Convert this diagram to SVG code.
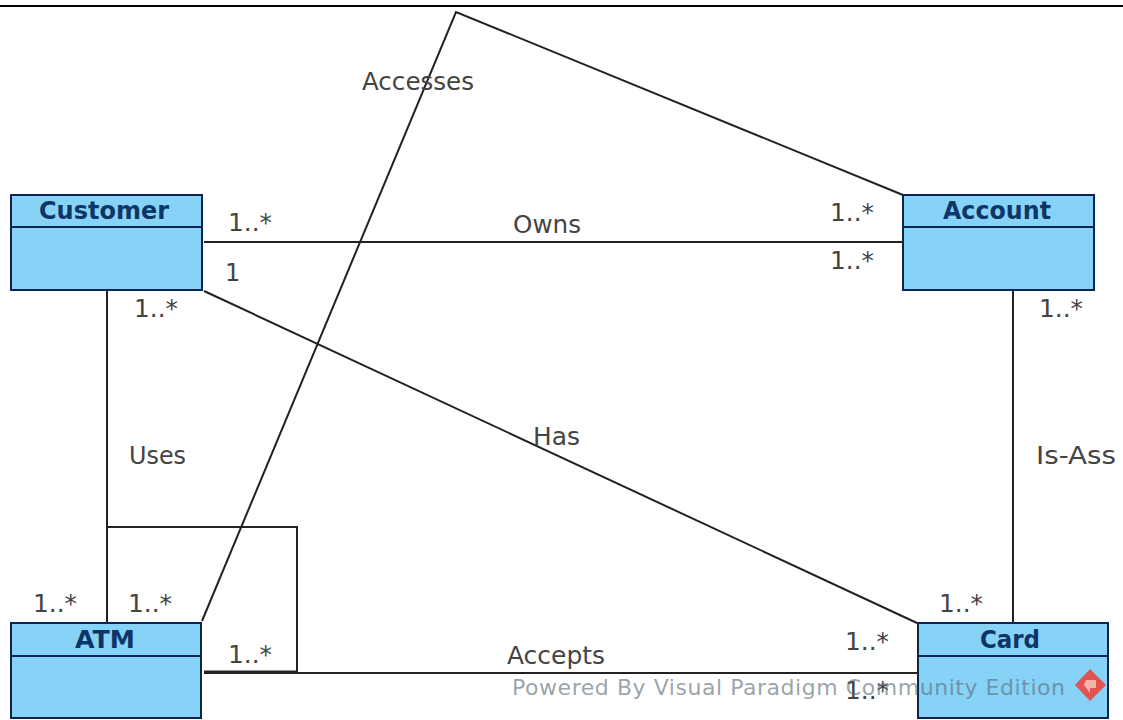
<svg xmlns="http://www.w3.org/2000/svg" width="1123" height="720" viewBox="0 0 1123 720">
<style>
text{font-family:"DejaVu Sans","Liberation Sans",sans-serif}
.box{fill:#87d3f7;stroke:#0d2350;stroke-width:2}
.sep{stroke:#0d2350;stroke-width:2}
.name{font-size:24px;font-weight:700;fill:#0d3566;text-anchor:middle}
.c{fill:none;stroke:#222;stroke-width:2}
.l{font-size:24px;fill:#444}
.m{font-size:24px;fill:#444}
.wm{font-size:22px;fill:#5f6f78;fill-opacity:.65}
</style>
<rect width="1123" height="720" fill="#fff"/>
<rect x="0" y="5" width="1123" height="2" fill="#000"/>
<g id="connectors">
<path class="c" d="M204 242H903"/>
<path class="c" d="M204 291L917 623"/>
<path class="c" d="M107 291V622"/>
<path class="c" d="M107 527H297V672H204"/>
<path class="c" d="M204 673H917"/>
<path class="c" style="stroke-width:3" d="M204 672H297"/>
<path class="c" d="M202 621L456 12L903 195"/>
<path class="c" d="M1013 291V622"/>
</g>
<g id="customer"><rect class="box" x="11" y="195" width="191" height="95"/><line class="sep" x1="11" y1="227" x2="202" y2="227"/><text class="name" x="104" y="219" textLength="130" lengthAdjust="spacingAndGlyphs">Customer</text></g>
<g id="account"><rect class="box" x="903" y="195" width="191" height="95"/><line class="sep" x1="903" y1="227" x2="1094" y2="227"/><text class="name" x="997" y="219" textLength="108" lengthAdjust="spacingAndGlyphs">Account</text></g>
<g id="atm"><rect class="box" x="11" y="623" width="190" height="95"/><line class="sep" x1="11" y1="656" x2="201" y2="656"/><text class="name" x="105" y="648" textLength="60" lengthAdjust="spacingAndGlyphs">ATM</text></g>
<g id="card"><rect class="box" x="918" y="623" width="190" height="95"/><line class="sep" x1="918" y1="656" x2="1108" y2="656"/><text class="name" x="1010" y="648" textLength="60" lengthAdjust="spacingAndGlyphs">Card</text></g>
<g id="labels">
<text class="l" x="362" y="90" textLength="112" lengthAdjust="spacingAndGlyphs">Accesses</text>
<text class="l" x="513" y="233" textLength="68" lengthAdjust="spacingAndGlyphs">Owns</text>
<text class="l" x="129" y="464" textLength="57" lengthAdjust="spacingAndGlyphs">Uses</text>
<text class="l" x="533" y="445" textLength="47" lengthAdjust="spacingAndGlyphs">Has</text>
<text class="l" x="1036" y="464" textLength="80" lengthAdjust="spacingAndGlyphs">Is-Ass</text>
<text class="l" x="507" y="664" textLength="98" lengthAdjust="spacingAndGlyphs">Accepts</text>
<text class="m" x="228" y="231" textLength="44" lengthAdjust="spacingAndGlyphs">1..*</text>
<text class="m" x="225" y="281">1</text>
<text class="m" x="134" y="317" textLength="44" lengthAdjust="spacingAndGlyphs">1..*</text>
<text class="m" x="830" y="221" textLength="44" lengthAdjust="spacingAndGlyphs">1..*</text>
<text class="m" x="830" y="269" textLength="44" lengthAdjust="spacingAndGlyphs">1..*</text>
<text class="m" x="1039" y="317" textLength="44" lengthAdjust="spacingAndGlyphs">1..*</text>
<text class="m" x="33" y="612" textLength="44" lengthAdjust="spacingAndGlyphs">1..*</text>
<text class="m" x="128" y="612" textLength="44" lengthAdjust="spacingAndGlyphs">1..*</text>
<text class="m" x="228" y="663" textLength="44" lengthAdjust="spacingAndGlyphs">1..*</text>
<text class="m" x="939" y="612" textLength="44" lengthAdjust="spacingAndGlyphs">1..*</text>
<text class="m" x="845" y="650" textLength="44" lengthAdjust="spacingAndGlyphs">1..*</text>
<text class="m" x="845" y="699" textLength="44" lengthAdjust="spacingAndGlyphs">1..*</text>
</g>
<g id="watermark">
<text class="wm" x="512" y="695" textLength="553" lengthAdjust="spacing">Powered By Visual Paradigm Community Edition</text>
<path d="M1090 669L1106 685L1090 701L1075 685Z" fill="#e25353"/>
<path d="M1086 680H1096V688H1090V693L1084 685Z" fill="#f3b5a8"/>
</g>
</svg>
